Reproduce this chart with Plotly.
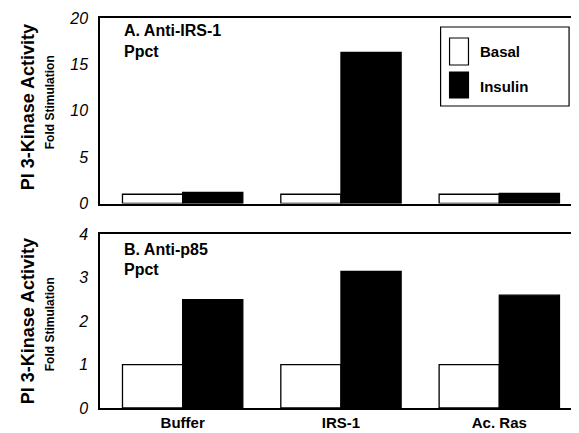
import plotly.graph_objects as go

categories = ["Buffer", "IRS-1", "Ac. Ras"]
irs1_basal = [1.0, 1.0, 1.0]
irs1_insulin = [1.2, 16.3, 1.1]
p85_basal = [1.0, 1.0, 1.0]
p85_insulin = [2.5, 3.15, 2.6]
top_ticks = [0, 5, 10, 15, 20]
bottom_ticks = [0, 1, 2, 3, 4]

FONT = "Liberation Sans"
line = dict(color="black", width=1.3)

fig = go.Figure()
fig.add_trace(go.Bar(x=categories, y=irs1_basal, name="Basal", marker=dict(color="white", line=line),
                     xaxis="x", yaxis="y", showlegend=False))
fig.add_trace(go.Bar(x=categories, y=irs1_insulin, name="Insulin", marker=dict(color="black", line=line),
                     xaxis="x", yaxis="y", showlegend=False))
fig.add_trace(go.Bar(x=categories, y=p85_basal, name="Basal", marker=dict(color="white", line=line),
                     xaxis="x2", yaxis="y2", showlegend=False))
fig.add_trace(go.Bar(x=categories, y=p85_insulin, name="Insulin", marker=dict(color="black", line=line),
                     xaxis="x2", yaxis="y2", showlegend=False))

axis_common = dict(showline=True, linecolor="black", linewidth=1.5, mirror=True, showgrid=False, zeroline=False)
tickfont = dict(family=FONT, size=16, color="black", style="italic")
xrange = [-0.522, 2.535]

TOP, BOT = 10, 33
fig.update_layout(
    width=579, height=433,
    margin=dict(l=92, r=1, t=TOP, b=BOT),
    paper_bgcolor="white", plot_bgcolor="white",
    barmode="group", bargap=0.24, bargroupgap=0,
    xaxis=dict(domain=[0, 1], anchor="y", range=xrange, showticklabels=False, ticks="", **axis_common),
    yaxis=dict(domain=[0.5243, 1], anchor="x", range=[0, 20], tickvals=top_ticks,
               ticktext=[f"<i>{v}</i>" for v in top_ticks],
               ticks="", tickfont=tickfont, ticklabelstandoff=7, **axis_common),
    xaxis2=dict(domain=[0, 1], anchor="y2", range=xrange, ticks="",
                tickfont=dict(family=FONT, size=15, color="black", weight="bold"), **axis_common),
    yaxis2=dict(domain=[0, 0.445], anchor="x2", range=[0, 4], tickvals=bottom_ticks,
                ticktext=[f"<i>{v}</i>" for v in bottom_ticks],
                ticks="", tickfont=tickfont, ticklabelstandoff=7, **axis_common),
)

ann = []
def txt(x, y, s, size, xanchor="left", angle=0, yanchor="middle"):
    ann.append(dict(x=x, y=y, xref="paper", yref="paper", text=s, showarrow=False,
                    xanchor=xanchor, yanchor=yanchor, textangle=angle,
                    font=dict(family=FONT, size=size, color="black", weight="bold")))

W = 579 - 92 - 1
H = 433 - TOP - BOT
def px(x):
    return (x - 92) / W
def py(y):
    # y measured in reference pixels; shift by the offset between reference and this layout
    return (433 - BOT - (y - 2)) / H

txt(px(114), py(25), "A. Anti-IRS-1", 16)
txt(px(114), py(45), "Ppct", 16)
txt(px(114), py(243), "B. Anti-p85", 16)
txt(px(114), py(263), "Ppct", 16)

# y titles
txt(px(20), py(101), "PI 3-Kinase Activity", 18, xanchor="center", angle=-90)
txt(px(42), py(96), "Fold Stimulation", 12, xanchor="center", angle=-90)
txt(px(20), py(315), "PI 3-Kinase Activity", 18, xanchor="center", angle=-90)
txt(px(42), py(318), "Fold Stimulation", 12, xanchor="center", angle=-90)

# legend
txt(px(472), py(45), "Basal", 15)
txt(px(472), py(80), "Insulin", 15)
fig.update_layout(annotations=ann)

shapes = [
    dict(type="rect", xref="paper", yref="paper", x0=px(434), x1=px(563), y0=py(21), y1=py(100),
         line=dict(color="black", width=1.2), fillcolor="white", layer="below"),
    dict(type="rect", xref="paper", yref="paper", x0=px(443), x1=px(462), y0=py(32), y1=py(59),
         line=dict(color="black", width=1.2), fillcolor="white"),
    dict(type="rect", xref="paper", yref="paper", x0=px(443), x1=px(462), y0=py(66), y1=py(92),
         line=dict(color="black", width=1.2), fillcolor="black"),
]
fig.update_layout(shapes=shapes)

fig.write_html("out.html")
